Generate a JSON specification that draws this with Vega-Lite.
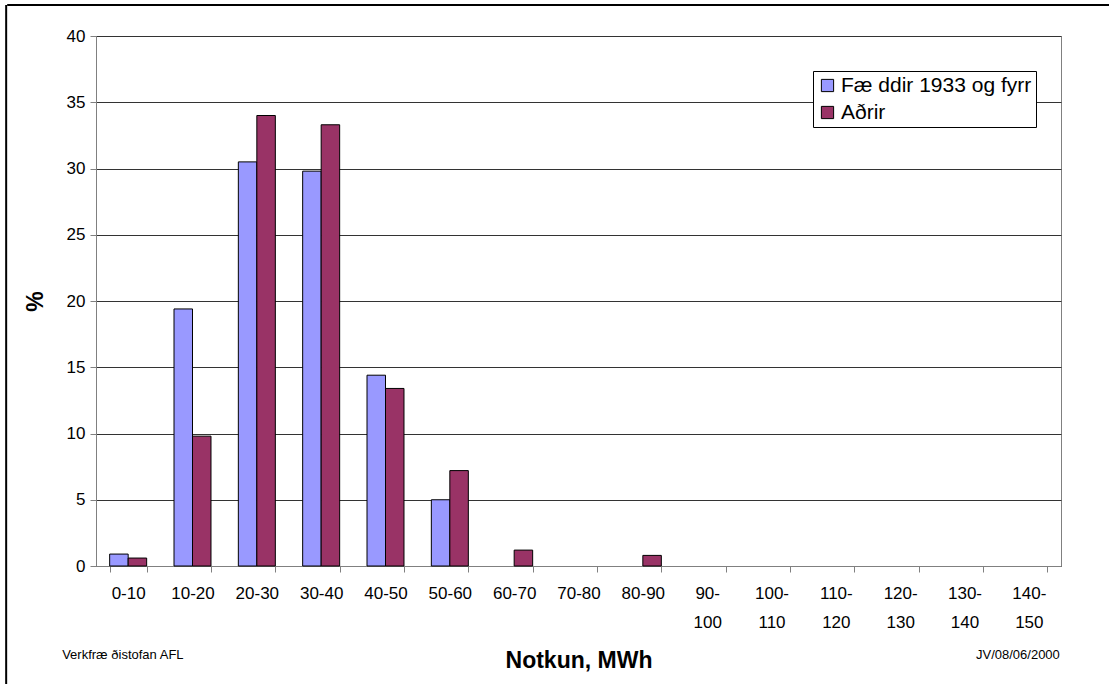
{
  "$schema": "https://vega.github.io/schema/vega-lite/v6.json",
  "width": 965,
  "height": 530,
  "autosize": {"type": "none"},
  "padding": {"left": 96, "top": 36, "right": 48, "bottom": 118},
  "background": "white",
  "config": {
    "font": "Liberation Sans",
    "view": {"stroke": "#808080", "strokeWidth": 1}
  },
  "data": {
    "values": [
      {"bin": "0-10", "group": "Fæ ddir 1933 og fyrr", "value": 0.9},
      {"bin": "0-10", "group": "Aðrir", "value": 0.6},
      {"bin": "10-20", "group": "Fæ ddir 1933 og fyrr", "value": 19.4},
      {"bin": "10-20", "group": "Aðrir", "value": 9.8},
      {"bin": "20-30", "group": "Fæ ddir 1933 og fyrr", "value": 30.5},
      {"bin": "20-30", "group": "Aðrir", "value": 34.0},
      {"bin": "30-40", "group": "Fæ ddir 1933 og fyrr", "value": 29.8},
      {"bin": "30-40", "group": "Aðrir", "value": 33.3},
      {"bin": "40-50", "group": "Fæ ddir 1933 og fyrr", "value": 14.4},
      {"bin": "40-50", "group": "Aðrir", "value": 13.4},
      {"bin": "50-60", "group": "Fæ ddir 1933 og fyrr", "value": 5.0},
      {"bin": "50-60", "group": "Aðrir", "value": 7.2},
      {"bin": "60-70", "group": "Aðrir", "value": 1.2},
      {"bin": "80-90", "group": "Aðrir", "value": 0.8}
    ]
  },
  "layer": [
    {
      "mark": {"type": "bar", "stroke": "black", "strokeWidth": 1},
      "encoding": {
        "x": {
          "field": "bin",
          "type": "nominal",
          "sort": null,
          "scale": {
            "domain": ["0-10","10-20","20-30","30-40","40-50","50-60","60-70","70-80","80-90","90-100","100-110","110-120","120-130","130-140","140-150"],
            "paddingInner": 0.425,
            "paddingOuter": 0.2125
          },
          "axis": {
            "title": "Notkun, MWh",
            "titleFontSize": 23,
            "titleFontWeight": "bold",
            "titleColor": "black",
            "titleBaseline": "middle",
            "titleY": 94,
            "labelAngle": 0,
            "labelFontSize": 17,
            "labelColor": "black",
            "labelPadding": 13,
            "labelLineHeight": 29,
            "labelExpr": "length(datum.label) > 5 ? [slice(datum.label, 0, indexof(datum.label, '-') + 1), slice(datum.label, indexof(datum.label, '-') + 1)] : datum.label",
            "tickBand": "extent",
            "tickSize": 6,
            "tickColor": "#808080",
            "domainColor": "#808080",
            "grid": false
          }
        },
        "xOffset": {
          "field": "group",
          "type": "nominal",
          "sort": ["Fæ ddir 1933 og fyrr", "Aðrir"],
          "scale": {"domain": ["Fæ ddir 1933 og fyrr", "Aðrir"], "paddingInner": 0, "paddingOuter": 0}
        },
        "y": {
          "field": "value",
          "type": "quantitative",
          "scale": {"domain": [0, 40], "nice": false},
          "axis": {
            "title": "%",
            "titleFontSize": 23,
            "titleFontWeight": "bold",
            "titleColor": "black",
            "titlePadding": 19,
            "values": [0,5,10,15,20,25,30,35,40],
            "labelFontSize": 17,
            "labelColor": "black",
            "labelPadding": 5,
            "tickSize": 6,
            "tickColor": "#808080",
            "domainColor": "#808080",
            "gridColor": "#333333",
            "gridOpacity": 1
          }
        },
        "color": {
          "field": "group",
          "type": "nominal",
          "sort": ["Fæ ddir 1933 og fyrr", "Aðrir"],
          "scale": {"domain": ["Fæ ddir 1933 og fyrr", "Aðrir"], "range": ["#9999FF", "#993366"]},
          "legend": {
            "title": null,
            "orient": "none",
            "legendX": 717,
            "legendY": 35,
            "symbolType": "square",
            "symbolSize": 150,
            "symbolStrokeColor": "black",
            "symbolStrokeWidth": 1,
            "symbolOpacity": 1,
            "labelFontSize": 21,
            "labelColor": "black",
            "labelLimit": 260,
            "labelOffset": 3,
            "rowPadding": 5,
            "padding": 4,
            "fillColor": "white",
            "strokeColor": "black"
          }
        }
      }
    },
    {
      "data": {"values": [{}]},
      "mark": {"type": "rule", "color": "black", "strokeWidth": 2, "xOffset": -121, "x2Offset": 81},
      "encoding": {
        "x": {"datum": "0-10"},
        "x2": {"datum": "140-150"},
        "y": {"datum": 42.34}
      }
    },
    {
      "data": {"values": [{}]},
      "mark": {"type": "rule", "color": "black", "strokeWidth": 2, "xOffset": -122},
      "encoding": {
        "x": {"datum": "0-10"},
        "y": {"datum": 42.34},
        "y2": {"datum": -9.5}
      }
    },
    {
      "data": {"values": [{}]},
      "mark": {"type": "text", "fontSize": 13, "align": "left", "baseline": "middle", "dx": -66, "color": "black"},
      "encoding": {
        "x": {"datum": "0-10"},
        "y": {"datum": -6.7},
        "text": {"value": "Verkfræ ðistofan AFL"}
      }
    },
    {
      "data": {"values": [{}]},
      "mark": {"type": "text", "fontSize": 13, "align": "right", "baseline": "middle", "dx": 31, "color": "black"},
      "encoding": {
        "x": {"datum": "140-150"},
        "y": {"datum": -6.7},
        "text": {"value": "JV/08/06/2000"}
      }
    }
  ]
}
